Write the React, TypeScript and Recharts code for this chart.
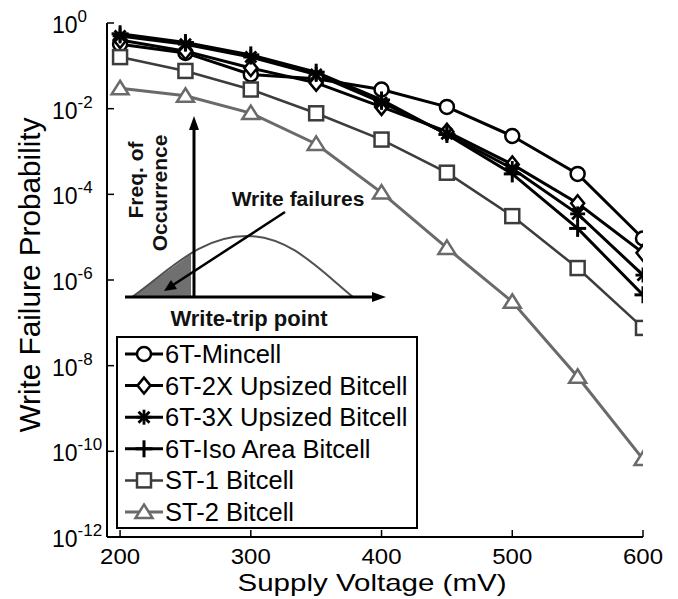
import React from 'react';
import { LineChart, Line, XAxis, YAxis, Legend, Customized } from 'recharts';

// ---- data ----
const voltages = [200, 250, 300, 350, 400, 450, 500, 550, 600];
const mincell = [3.2e-1, 2.0e-1, 6.3e-2, 5.0e-2, 2.8e-2, 1.1e-2, 2.3e-3, 3.0e-4, 9.3e-6];
const upsized2x = [4.0e-1, 2.2e-1, 8.9e-2, 4.0e-2, 1.1e-2, 2.9e-3, 5.0e-4, 6.2e-5, 4.3e-6];
const upsized3x = [5.0e-1, 3.2e-1, 1.6e-1, 6.3e-2, 1.4e-2, 2.6e-3, 4.0e-4, 3.5e-5, 1.3e-6];
const isoArea = [5.6e-1, 3.5e-1, 1.8e-1, 7.1e-2, 1.6e-2, 2.5e-3, 3.0e-4, 1.6e-5, 4.5e-7];
const st1 = [1.6e-1, 7.6e-2, 2.8e-2, 7.8e-3, 1.9e-3, 3.2e-4, 3.1e-5, 1.9e-6, 7.6e-8];
const st2 = [3.0e-2, 2.0e-2, 7.9e-3, 1.5e-3, 1.1e-4, 5.6e-6, 3.1e-7, 5.5e-9, 6.6e-11];

const xTicks = [200, 300, 400, 500, 600];
const yTicks = [1e-12, 1e-10, 1e-8, 1e-6, 1e-4, 1e-2, 1];
const yExponents = ['-12', '-10', '-8', '-6', '-4', '-2', '0'];
const seriesNames = [
  '6T-Mincell',
  '6T-2X Upsized Bitcell',
  '6T-3X Upsized Bitcell',
  '6T-Iso Area Bitcell',
  'ST-1 Bitcell',
  'ST-2 Bitcell',
];

const rows = voltages.map((v, i) => ({
  v,
  mincell: mincell[i],
  up2: upsized2x[i],
  up3: upsized3x[i],
  iso: isoArea[i],
  st1: st1[i],
  st2: st2[i],
}));

const FONT = '"Liberation Sans", Arial, sans-serif';
const ST1_COLOR = '#3c3c3c';
const ST2_COLOR = '#6a6a6a';

// ---- markers ----
type MP = { cx: number; cy: number; color: string };
const CircleM = ({ cx, cy, color }: MP) => (
  <circle cx={cx} cy={cy} r={7} fill="#fff" stroke={color} strokeWidth={2.5} />
);
const DiamondM = ({ cx, cy, color }: MP) => (
  <path d={`M${cx},${cy - 8}L${cx + 6.5},${cy}L${cx},${cy + 8}L${cx - 6.5},${cy}Z`} fill="#fff" stroke={color} strokeWidth={2.5} />
);
const StarM = ({ cx, cy, color }: MP) => (
  <g stroke={color} strokeWidth={2.8}>
    <line x1={cx} y1={cy - 7.5} x2={cx} y2={cy + 7.5} />
    <line x1={cx - 7.5} y1={cy} x2={cx + 7.5} y2={cy} />
    <line x1={cx - 5.5} y1={cy - 5.5} x2={cx + 5.5} y2={cy + 5.5} />
    <line x1={cx - 5.5} y1={cy + 5.5} x2={cx + 5.5} y2={cy - 5.5} />
  </g>
);
const PlusM = ({ cx, cy, color }: MP) => (
  <g stroke={color} strokeWidth={3}>
    <line x1={cx} y1={cy - 8.5} x2={cx} y2={cy + 8.5} />
    <line x1={cx - 8.5} y1={cy} x2={cx + 8.5} y2={cy} />
  </g>
);
const SquareM = ({ cx, cy, color }: MP) => (
  <rect x={cx - 7} y={cy - 7} width={14} height={14} fill="#fff" stroke={color} strokeWidth={2.5} />
);
const TriM = ({ cx, cy, color }: MP) => (
  <path d={`M${cx},${cy - 7.5}L${cx + 8.5},${cy + 6}L${cx - 8.5},${cy + 6}Z`} fill="#fff" stroke={color} strokeWidth={2.5} />
);

const seriesDefs = [
  { key: 'mincell', color: '#000', width: 3, M: CircleM },
  { key: 'up2', color: '#000', width: 3, M: DiamondM },
  { key: 'up3', color: '#000', width: 3, M: StarM },
  { key: 'iso', color: '#000', width: 3, M: PlusM },
  { key: 'st1', color: ST1_COLOR, width: 2.5, M: SquareM },
  { key: 'st2', color: ST2_COLOR, width: 3, M: TriM },
];

const makeDot = (M: any, color: string) => (p: any) => {
  if (p.cx == null || p.cy == null) return <g key={p.key} />;
  return <g key={p.key}><M cx={p.cx} cy={p.cy} color={color} /></g>;
};

// ---- ticks ----
const XTickBottom = (p: any) => (
  <g>
    <line x1={p.x} x2={p.x} y1={p.y} y2={p.y - 7} stroke="#000" strokeWidth={1.5} />
    <text x={p.x} y={p.y + 27} textAnchor="middle" fontSize={22} fontFamily={FONT} fill="#000" textLength={40} lengthAdjust="spacingAndGlyphs">
      {p.payload.value}
    </text>
  </g>
);
const XTickTop = (p: any) => (
  <line x1={p.x} x2={p.x} y1={p.y} y2={p.y + 7} stroke="#000" strokeWidth={1.5} />
);
const YTickLeft = (p: any) => {
  const idx = yTicks.indexOf(p.payload.value);
  return (
    <g>
      <line x1={p.x} x2={p.x + 7} y1={p.y} y2={p.y} stroke="#000" strokeWidth={1.5} />
      <text x={p.x - 55} y={p.y + 10} fontSize={23} fontFamily={FONT} fill="#000">
        10
        <tspan dy={-11} fontSize={17}>{yExponents[idx]}</tspan>
      </text>
    </g>
  );
};
const YTickRight = (p: any) => (
  <line x1={p.x} x2={p.x - 7} y1={p.y} y2={p.y} stroke="#000" strokeWidth={1.5} />
);

// ---- inset illustration ----
const Inset = () => (
  <g fontFamily={FONT}>
    <path d="M132,297 Q165,273 191,254 L191,297 Z" fill="#707070" />
    <path d="M132,297 C170,270 200,236 247,236 C290,236 320,270 353,297" fill="none" stroke="#505050" strokeWidth={2} />
    <line x1={194} y1={298} x2={194} y2={128} stroke="#000" strokeWidth={3} />
    <path d="M194,116 L189,130 L199,130 Z" fill="#000" />
    <line x1={125} y1={297} x2={374} y2={297} stroke="#000" strokeWidth={3} />
    <path d="M386,297 L372,292 L372,302 Z" fill="#000" />
    <line x1={285} y1={212} x2={173} y2={285} stroke="#000" strokeWidth={2.5} />
    <path d="M164,291 L171,280 L177,289 Z" fill="#000" />
    <text x={298} y={206} textAnchor="middle" fontSize={21} fontWeight="bold" fill="#111">Write failures</text>
    <text x={249} y={326} textAnchor="middle" fontSize={22} fontWeight="bold" fill="#111">Write-trip point</text>
    <text transform="translate(143,180) rotate(-90)" textAnchor="middle" fontSize={21} fontWeight="bold" fill="#111">Freq. of</text>
    <text transform="translate(167,193) rotate(-90)" textAnchor="middle" fontSize={21} fontWeight="bold" fill="#111">Occurrence</text>
  </g>
);

// ---- legend ----
const LegendBox = () => (
  <svg width={302} height={193} style={{ display: 'block' }}>
    <rect x={1} y={1} width={300} height={191} fill="#fff" stroke="#000" strokeWidth={2} />
    {seriesDefs.map((s, i) => {
      const cy = 18 + i * 31.6;
      const M = s.M;
      return (
        <g key={s.key}>
          <line x1={9} x2={47} y1={cy} y2={cy} stroke={s.color} strokeWidth={s.width} />
          <M cx={28} cy={cy} color={s.color} />
          <text x={49} y={cy + 9} fontSize={25.5} fontFamily={FONT} fill="#000">{seriesNames[i]}</text>
        </g>
      );
    })}
  </svg>
);

export default function App() {
  return (
    <div style={{ position: 'absolute', left: 0, top: 0, width: 678, height: 599, background: '#fff' }}>
      <LineChart width={678} height={599} data={rows} margin={{ top: 23, right: 35, bottom: 0, left: 0 }}>
        <XAxis
          xAxisId="b"
          dataKey="v"
          type="number"
          domain={[190, 600]}
          ticks={xTicks}
          interval={0}
          allowDataOverflow
          height={62}
          tickSize={0}
          tickMargin={0}
          tickLine={false}
          axisLine={{ stroke: '#000', strokeWidth: 2 }}
          tick={(p: any) => <XTickBottom {...p} />}
          label={(p: any) => {
            const vb = p.viewBox;
            return (
              <text x={vb.x + vb.width / 2 - 3} y={vb.y + 54} textAnchor="middle" fontSize={24} fontFamily={FONT} fill="#000" textLength={269} lengthAdjust="spacingAndGlyphs">
                Supply Voltage (mV)
              </text>
            );
          }}
        />
        <XAxis
          xAxisId="t"
          orientation="top"
          dataKey="v"
          type="number"
          domain={[190, 600]}
          ticks={xTicks}
          interval={0}
          allowDataOverflow
          height={0}
          tickSize={0}
          tickMargin={0}
          tickLine={false}
          axisLine={{ stroke: '#000', strokeWidth: 2 }}
          tick={(p: any) => <XTickTop {...p} />}
        />
        <YAxis
          yAxisId="l"
          scale="log"
          domain={[1e-12, 1]}
          ticks={yTicks}
          interval={0}
          allowDataOverflow
          width={107}
          tickSize={0}
          tickMargin={0}
          tickLine={false}
          axisLine={{ stroke: '#000', strokeWidth: 2 }}
          tick={(p: any) => <YTickLeft {...p} />}
          label={(p: any) => {
            const vb = p.viewBox;
            return (
              <text transform={`translate(40,${vb.y + 252}) rotate(-90)`} textAnchor="middle" fontSize={29} fontFamily={FONT} fill="#000" textLength={315} lengthAdjust="spacingAndGlyphs">
                Write Failure Probability
              </text>
            );
          }}
        />
        <YAxis
          yAxisId="r"
          orientation="right"
          scale="log"
          domain={[1e-12, 1]}
          ticks={yTicks}
          interval={0}
          allowDataOverflow
          width={0}
          tickSize={0}
          tickMargin={0}
          tickLine={false}
          axisLine={{ stroke: '#000', strokeWidth: 2 }}
          tick={(p: any) => <YTickRight {...p} />}
        />
        <Customized component={Inset} />
        {seriesDefs.map((s, i) => (
          <Line
            key={s.key}
            xAxisId="b"
            yAxisId="l"
            dataKey={s.key}
            name={seriesNames[i]}
            type="linear"
            stroke={s.color}
            strokeWidth={s.width}
            dot={makeDot(s.M, s.color)}
            activeDot={false}
            isAnimationActive={false}
          />
        ))}
        <Legend
          layout="vertical"
          align="center"
          verticalAlign="middle"
          wrapperStyle={{ position: 'absolute', left: 116, top: 336, width: 302, height: 193 }}
          content={() => <LegendBox />}
        />
      </LineChart>
    </div>
  );
}
